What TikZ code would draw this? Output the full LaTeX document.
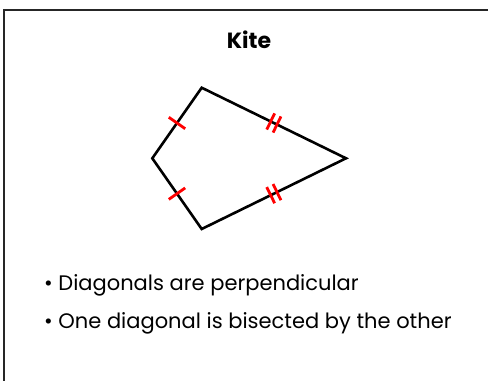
\documentclass[tikz,border=0pt]{standalone}
\usepackage{fontspec}
\setmainfont{Poppins}
\usetikzlibrary{calc}
\tikzset{
  side/.style={line width=2.6pt,line join=miter},
  tickmark/.style={red,line width=2.8pt},
  fact/.style={anchor=west,inner sep=0pt,font=\fontsize{21}{24}\selectfont}
}
% one or two small strokes across the middle of a side
\newcommand\onetick[2]{\draw[tickmark] ($(#1)!0.5!(#2)!10pt!90:(#2)$) -- ($(#1)!0.5!(#2)!10pt!-90:(#2)$);}
\newcommand\twoticks[2]{\foreach \s in {-3.5,3.5}
  \draw[tickmark] ($(#1)!0.5!(#2)!\s pt!(#2)!9pt!90:(#2)$) -- ($(#1)!0.5!(#2)!\s pt!(#2)!9pt!-90:(#2)$);}
\begin{document}
\begin{tikzpicture}[x=1pt,y=-1pt]
\useasboundingbox (0,0) rectangle (488,381);
% frame, only top and left edges show
\draw[line width=2.2pt,black!85] (488,10) -- (4,10) -- (4,381);
% title
\node[font=\bfseries\fontsize{22}{26}\selectfont] (title) at (249,40) {Kite};
% corners of the kite
\coordinate (top) at (201.7,87.7);
\coordinate (left) at (152.3,158.3);
\coordinate (bot) at (201.7,229);
\coordinate (right) at (346,158.3);
% sides
\draw[side] (left) -- (top) -- (right) -- (bot) -- cycle;
\onetick{left}{top}
\onetick{left}{bot}
\twoticks{top}{right}
\twoticks{bot}{right}
% properties
\node[fact] (diag) at (44,285) {\textbullet\ Diagonals are perpendicular};
\node[fact] (bisect) at (44,323) {\textbullet\ One diagonal is bisected by the other};
\end{tikzpicture}
\end{document}
